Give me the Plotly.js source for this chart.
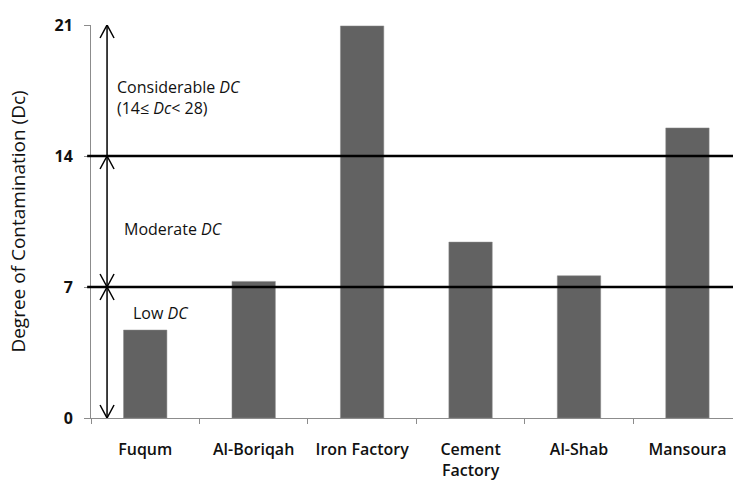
<!DOCTYPE html>
<html>
<head>
<meta charset="utf-8">
<script src="https://cdn.plot.ly/plotly-3.0.1.min.js"></script>
<style>html,body{margin:0;padding:0;background:#fff;}#chart{width:733px;height:480px;}</style>
</head>
<body>
<div id="chart"></div>
<script>
const categories = ["Fuqum", "Al-Boriqah", "Iron Factory", "Cement<br>Factory", "Al-Shab", "Mansoura"];
const dcValues = [4.7, 7.3, 20.95, 9.4, 7.6, 15.5];
const thresholds = [0, 7, 14, 21];
const bandLabels = ["Low <i>DC</i>", "Moderate <i>DC</i>", "Considerable <i>DC</i><br>(14≤ <i>Dc</i>< 28)"];
const bandLabelY = [5.6, 10.1, 17.1];
const bandLabelX = [0.062, 0.048, 0.037];
// which ends of each band arrow carry a head: [bottom, top]
const bandHeads = [[true, true], [true, true], [false, true]];
const yTicks = [0, 7, 14, 21];

const FONT = "Open Sans, Liberation Sans, sans-serif";
const arrowX = -0.352;
const HW = 7, HL = 13;

const shapes = [];
const annotations = [];
for (let i = 0; i < thresholds.length - 1; i++) {
  const lo = thresholds[i], hi = thresholds[i + 1];
  shapes.push({
    type: 'line', xref: 'x', yref: 'y', x0: arrowX, x1: arrowX, y0: lo, y1: hi,
    line: {color: '#000', width: 1.5}
  });
  if (bandHeads[i][1]) {
    shapes.push({
      type: 'path', xref: 'x', yref: 'y', xsizemode: 'pixel', ysizemode: 'pixel',
      xanchor: arrowX, yanchor: hi,
      path: `M${-HW},${-HL} L0,0 L${HW},${-HL}`,
      line: {color: '#000', width: 1.5}
    });
  }
  if (bandHeads[i][0]) {
    shapes.push({
      type: 'path', xref: 'x', yref: 'y', xsizemode: 'pixel', ysizemode: 'pixel',
      xanchor: arrowX, yanchor: lo,
      path: `M${-HW},${HL} L0,0 L${HW},${HL}`,
      line: {color: '#000', width: 1.5}
    });
  }
  annotations.push({
    x: bandLabelX[i], y: bandLabelY[i], xref: 'paper', yref: 'y',
    xanchor: 'left', yanchor: 'middle', align: 'left', showarrow: false,
    text: bandLabels[i], font: {family: FONT, size: 16, color: '#111'}
  });
}

[7, 14].forEach(v => shapes.push({
  type: 'line', xref: 'paper', yref: 'y', x0: -0.006, x1: 1, y0: v, y1: v,
  line: {color: '#000', width: 2.5}
}));

const trace = {
  type: 'bar', x: categories, y: dcValues,
  width: 0.4,
  marker: {color: '#626262', line: {color: '#8a8a8a', width: 0.5}},
  hoverinfo: 'none'
};

const layout = {
  width: 733, height: 480,
  margin: {l: 91, r: 0, t: 25, b: 62},
  paper_bgcolor: '#fff', plot_bgcolor: '#fff',
  showlegend: false,
  font: {family: FONT, color: '#000'},
  xaxis: {
    type: 'category', range: [-0.5, 5.42],
    showline: true, linecolor: '#8c8c8c', linewidth: 1,
    ticks: 'outside', tickson: 'boundaries', ticklen: 5, tickcolor: '#8c8c8c',
    ticklabelstandoff: 17,
    tickfont: {family: FONT, size: 16, color: '#111', weight: 600},
    showgrid: false, zeroline: false, fixedrange: true
  },
  yaxis: {
    range: [0, 21], tickvals: yTicks, ticktext: yTicks.map(v => '<b>' + v + '</b>'),
    showline: true, linecolor: '#8c8c8c', linewidth: 1,
    ticks: 'outside', ticklen: 6, tickcolor: '#8c8c8c',
    ticklabelstandoff: 8,
    tickfont: {family: FONT, size: 16, color: '#111'},
    showgrid: false, zeroline: false,
    title: {text: 'Degree of Contamination (Dc)', font: {family: FONT, size: 19, color: '#111'}, standoff: 23}
  },
  shapes: shapes,
  annotations: annotations
};

Plotly.newPlot('chart', [trace], layout, {displayModeBar: false, staticPlot: true});
</script>
</body>
</html>
